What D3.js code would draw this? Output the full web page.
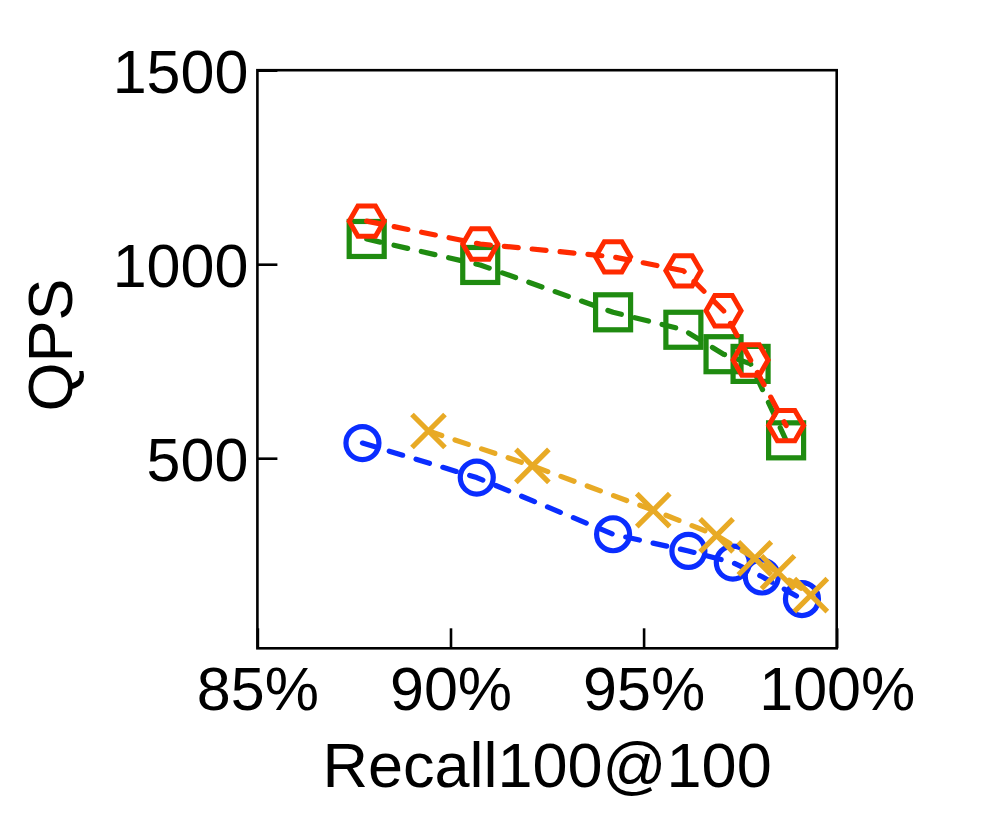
<!DOCTYPE html>
<html>
<head>
<meta charset="utf-8">
<script src="https://cdn.jsdelivr.net/npm/d3@7"></script>
<style>
  html, body { margin: 0; padding: 0; background: #fff; }
  svg { display: block; }
  text { font-family: "Liberation Sans", Arial, Helvetica, sans-serif; fill: #000; }
</style>
</head>
<body>
<svg id="chart" width="997" height="820"></svg>
<script>
// ---- data ----
const xTicks = [85, 90, 95, 100];
const xTickLabels = ["85%", "90%", "95%", "100%"];
const yTicks = [500, 1000, 1500];
const yTickLabels = ["500", "1000", "1500"];

const recallBlue   = [87.72, 90.68, 94.21, 96.16, 97.31, 98.06, 99.10];
const qpsBlue      = [539, 450, 304, 261, 231, 195, 137];
const recallOrange = [89.43, 92.12, 95.25, 96.89, 97.88, 98.48, 99.33];
const qpsOrange    = [570, 480, 366, 301, 242, 206, 147];
const recallGreen  = [87.83, 90.77, 94.21, 96.03, 97.07, 97.77, 98.69];
const qpsGreen     = [1065, 998, 876, 831, 768, 743, 546];
const recallRed    = [87.83, 90.77, 94.21, 96.03, 97.07, 97.77, 98.69];
const qpsRed       = [1111, 1052, 1019, 983, 880, 753, 584];

const xTitle = "Recall100@100";
const yTitle = "QPS";

// ---- layout ----
const svg = d3.select("#chart");
const pLeft = 257.4, pRight = 836.7, pTop = 70.2, pBottom = 648.3;

const x = d3.scaleLinear().domain([85, 100]).range([pLeft, pRight]);
const y = d3.scaleLinear().domain([10, 1500]).range([pBottom, pTop]);

const series = [
  { xs: recallBlue,   ys: qpsBlue,   color: "#0a2dff", marker: "circle" },
  { xs: recallOrange, ys: qpsOrange, color: "#e8aa25", marker: "x" },
  { xs: recallGreen,  ys: qpsGreen,  color: "#1f8b10", marker: "square" },
  { xs: recallRed,    ys: qpsRed,    color: "#ff2a00", marker: "hexagon" }
];

// frame
svg.append("rect")
  .attr("x", pLeft).attr("y", pTop)
  .attr("width", pRight - pLeft).attr("height", pBottom - pTop)
  .attr("fill", "none").attr("stroke", "#000").attr("stroke-width", 2.6);

// axes (ticks inward)
const tickFont = 61;
const titleFont = 63;
const xAxis = d3.axisBottom(x).tickValues(xTicks).tickSizeInner(-20).tickSizeOuter(0)
  .tickFormat((d, i) => xTickLabels[i]).tickPadding(0);
const gx = svg.append("g").attr("transform", `translate(0,${pBottom})`).call(xAxis);
gx.select(".domain").remove();
gx.selectAll(".tick line").attr("stroke", "#000").attr("stroke-width", 2.6);
gx.selectAll(".tick text").attr("y", 62).attr("dy", null)
  .attr("font-size", tickFont).style("font-family", "'Liberation Sans', Arial, sans-serif");

const yAxis = d3.axisLeft(y).tickValues(yTicks).tickSizeInner(-20).tickSizeOuter(0)
  .tickFormat((d, i) => yTickLabels[i]).tickPadding(0);
const gy = svg.append("g").attr("transform", `translate(${pLeft},0)`).call(yAxis);
gy.select(".domain").remove();
gy.selectAll(".tick line").attr("stroke", "#000").attr("stroke-width", 2.6);
gy.selectAll(".tick text").attr("x", -9).attr("dy", "0.36em")
  .attr("font-size", tickFont).style("font-family", "'Liberation Sans', Arial, sans-serif");

// titles
svg.append("text")
  .attr("x", (pLeft + pRight) / 2).attr("y", 787)
  .attr("text-anchor", "middle").attr("font-size", titleFont)
  .text(xTitle);
svg.append("text")
  .attr("transform", `translate(72,345) rotate(-90)`)
  .attr("text-anchor", "middle").attr("font-size", titleFont)
  .text(yTitle);

// markers
function hexPath(R) {
  const pts = d3.range(6).map(i => {
    const a = Math.PI / 3 * i;
    return [R * Math.cos(a), R * Math.sin(a)];
  });
  return "M" + pts.map(p => p.join(",")).join("L") + "Z";
}

const line = d3.line().x(d => x(d[0])).y(d => y(d[1]));

series.forEach(s => {
  const pts = s.xs.map((v, i) => [v, s.ys[i]]);
  const g = svg.append("g");
  g.append("path").datum(pts)
    .attr("d", line)
    .attr("fill", "none").attr("stroke", s.color)
    .attr("stroke-width", 5.2).attr("stroke-dasharray", "14,14")
    .attr("stroke-linecap", "round").attr("stroke-linejoin", "round");
  const m = g.selectAll(".m").data(pts).enter().append("g")
    .attr("transform", d => `translate(${x(d[0])},${y(d[1])})`);
  if (s.marker === "circle") {
    m.append("circle").attr("r", 16.5)
      .attr("fill", "none").attr("stroke", s.color).attr("stroke-width", 5.2);
  } else if (s.marker === "square") {
    m.append("rect").attr("x", -17.5).attr("y", -17.5).attr("width", 35).attr("height", 35)
      .attr("fill", "none").attr("stroke", s.color).attr("stroke-width", 5.2);
  } else if (s.marker === "hexagon") {
    m.append("path").attr("d", hexPath(17.5))
      .attr("fill", "none").attr("stroke", s.color).attr("stroke-width", 5);
  } else if (s.marker === "x") {
    m.append("path").attr("d", "M-16.5,-16.5L16.5,16.5M-16.5,16.5L16.5,-16.5")
      .attr("fill", "none").attr("stroke", s.color).attr("stroke-width", 5.2);
  }
});
</script>
</body>
</html>
